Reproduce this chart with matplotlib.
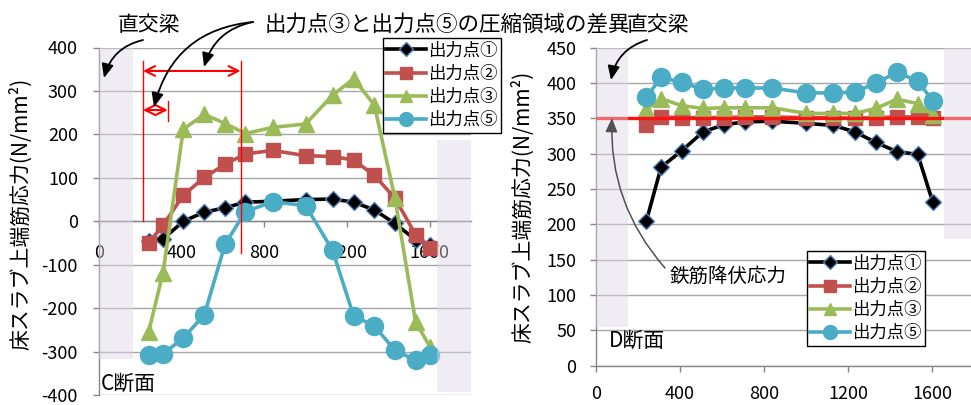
import matplotlib
matplotlib.use("Agg")
import matplotlib.pyplot as plt
from matplotlib.patches import Rectangle, FancyArrowPatch
from matplotlib.lines import Line2D

plt.rcParams['font.family'] = ['Noto Sans CJK JP', 'DejaVu Sans']
plt.rcParams['axes.unicode_minus'] = False

# ---- data -------------------------------------------------------------
positions = [240, 310, 408, 510, 610, 708, 840, 1000, 1130, 1232, 1332, 1432, 1532, 1603]
series_labels = ['出力点①', '出力点②', '出力点③', '出力点⑤']

# C断面 (compression side)
c_point1 = [-45, -41, 0, 21, 31, 44, 46, 50, 51, 44, 26, -5, -43, -55]
c_point2 = [-50, -9, 60, 101, 131, 155, 163, 151, 149, 141, 106, 53, -31, -62]
c_point3 = [-255, -118, 212, 246, 225, 202, 216, 224, 290, 328, 268, 53, -232, -290]
c_point5 = [-307, -305, -269, -215, -53, 22, 45, 36, -67, -218, -241, -297, -320, -307]

# D断面 (tension side)
d_point1 = [205, 281, 304, 331, 341, 345, 346, 343, 340, 331, 316, 303, 299, 232]
d_point2 = [341, 352, 351, 351, 351, 352, 352, 351, 351, 350, 351, 352, 352, 350]
d_point3 = [363, 378, 368, 364, 365, 365, 365, 357, 357, 357, 364, 377, 371, 355]
d_point5 = [380, 408, 401, 391, 393, 393, 393, 386, 386, 387, 400, 415, 403, 375]

yield_stress = 350
x_ticks = [0, 400, 800, 1200, 1600]
c_y_ticks = list(range(-400, 401, 100))
d_y_ticks = list(range(0, 451, 50))

# ---- figure -----------------------------------------------------------
W, H = 971, 405
fig = plt.figure(figsize=(W / 100, H / 100), dpi=100)


def fx(px):
    return px / W


def fy(py):
    return 1 - py / H


styles = [
    dict(color='black', marker='D', ms=8.5, mfc='black', mec='#4F81BD', mew=1.0),
    dict(color='#C0504D', marker='s', ms=9.5, mfc='#C0504D', mec='#C0504D'),
    dict(color='#9BBB59', marker='^', ms=12, mfc='#9BBB59', mec='#9BBB59'),
    dict(color='#4BACC6', marker='o', ms=13, mfc='#4BACC6', mec='#4BACC6'),
]
legend_ms = [7, 8, 9, 10]

GRID = '#A6A6A6'
BAND_FC = '#DCD8E6'
TICK_FS = 13


def style_axes(ax, yticks):
    ax.set_axisbelow(True)
    ax.grid(axis='y', color=GRID, lw=1.0)
    ax.set_yticks(yticks)
    ax.set_yticklabels([str(v) for v in yticks])
    ax.set_xticks(x_ticks)
    ax.set_xticklabels([str(v) for v in x_ticks])
    for s in ('top', 'right'):
        ax.spines[s].set_visible(False)
    for s in ('left', 'bottom'):
        ax.spines[s].set_color('#868686')
        ax.spines[s].set_linewidth(1.0)
    ax.tick_params(axis='both', colors='#868686', labelcolor='black',
                   labelsize=TICK_FS, length=4.2, width=1.0)


def draw_series(ax, ys_list):
    for ys, st in zip(ys_list, styles):
        ax.plot(positions, ys, lw=2.6, zorder=3, **st)


def band(ax, x0, x1, y0, y1):
    ax.add_patch(Rectangle((x0, y0), x1 - x0, y1 - y0, facecolor=BAND_FC,
                           edgecolor='none', alpha=0.45, zorder=6, clip_on=False))


def make_legend(ax, left_px, top_px):
    handles = [Line2D([], [], lw=2.6, **{**st, 'ms': m}) for st, m in zip(styles, legend_ms)]
    leg = ax.legend(handles, series_labels, loc='upper left',
                    bbox_to_anchor=(fx(left_px), fy(top_px)), bbox_transform=fig.transFigure,
                    frameon=True, fancybox=False, edgecolor='black', framealpha=1,
                    borderpad=0.2, borderaxespad=0, handlelength=2.3, handletextpad=0.1,
                    labelspacing=0.3, prop={'size': 12.5})
    leg.get_frame().set_linewidth(1.0)
    leg.set_zorder(10)


# ---- left: C断面 ------------------------------------------------------
axc = fig.add_axes([fx(99), fy(395), fx(471) - fx(99), fy(47.5) - fy(395)])
axc.set_xlim(0, 1800)
axc.set_ylim(-400, 400)
style_axes(axc, c_y_ticks)
axc.spines['bottom'].set_position(('data', 0))
axc.tick_params(axis='x', pad=12)
axc.tick_params(axis='y', pad=11)
draw_series(axc, [c_point1, c_point2, c_point3, c_point5])
band(axc, 0, 165, -316, 400)
band(axc, 1634, 1800, -392, 188)
make_legend(axc, 383, 38)

axc.set_ylabel('床スラブ上端筋応力(N/mm²)', fontsize=15)
axc.yaxis.set_label_coords(fx(21), fy(214), transform=fig.transFigure)
axc.yaxis.label.set_verticalalignment('center')
axc.text(0.005, 0.0, 'C断面', transform=axc.transAxes, fontsize=15,
         ha='left', va='bottom', zorder=7)

# compression-zone markers
red = '#FF0000'
zone_x0, zone_x1, zone_x_small = 213, 685, 333
axc.plot([zone_x0, zone_x0], [0, 368], color=red, lw=1.0, zorder=5, clip_on=False)
axc.plot([zone_x1, zone_x1], [-73, 368], color=red, lw=1.0, zorder=5, clip_on=False)
axc.plot([zone_x_small, zone_x_small], [230, 277], color=red, lw=1.0, zorder=5)
for (xa, xb, yv) in [(zone_x0, zone_x1, 346), (zone_x0, zone_x_small, 256)]:
    axc.annotate('', xy=(xb, yv), xytext=(xa, yv),
                 arrowprops=dict(arrowstyle='<->,head_length=0.5,head_width=0.25',
                                 color=red, lw=1.5, shrinkA=0, shrinkB=0,
                                 mutation_scale=14), zorder=5)

# ---- right: D断面 -----------------------------------------------------
axd = fig.add_axes([fx(596), fy(365.7), fx(974) - fx(596), fy(47.7) - fy(365.7)])
axd.set_xlim(0, 1800)
axd.set_ylim(0, 450)
style_axes(axd, d_y_ticks)
axd.tick_params(axis='x', pad=10)
axd.tick_params(axis='y', pad=10)
draw_series(axd, [d_point1, d_point2, d_point3, d_point5])
axd.axhline(yield_stress, color='#FF1010', lw=2.4, zorder=4)
band(axd, 0, 151, 55, 450)
band(axd, 1657, 1800, 180, 450)
make_legend(axd, 807, 251)

axd.set_ylabel('床スラブ上端筋応力(N/mm²)', fontsize=15)
axd.yaxis.set_label_coords(fx(523), fy(207), transform=fig.transFigure)
axd.yaxis.label.set_verticalalignment('center')
axd.text(0.035, 0.045, 'D断面', transform=axd.transAxes, fontsize=15,
         ha='left', va='bottom', zorder=7)

# ---- annotations -------------------------------------------------------
fig.text(fx(149), fy(25), '直交梁', fontsize=15, ha='center', va='center')
fig.text(fx(265), fy(25), '出力点③と出力点⑤の圧縮領域の差異', fontsize=15.5,
         ha='left', va='center')
fig.text(fx(627), fy(25), '直交梁', fontsize=15, ha='left', va='center')
fig.text(fx(728), fy(276), '鉄筋降伏応力', fontsize=14, ha='center', va='center')


def curved_arrow(p0, p1, rad, color='black', lw=1.3):
    a = FancyArrowPatch((fx(p0[0]), fy(p0[1])), (fx(p1[0]), fy(p1[1])),
                        transform=fig.transFigure,
                        connectionstyle=f'arc3,rad={rad}',
                        arrowstyle='-|>,head_length=0.7,head_width=0.3',
                        mutation_scale=12, color=color, lw=lw,
                        shrinkA=0, shrinkB=0, zorder=8)
    fig.add_artist(a)


curved_arrow((143, 40), (104, 78), 0.3)
curved_arrow((253, 22), (204, 67), 0.3)
curved_arrow((253, 22), (154, 107), 0.35)
curved_arrow((647, 40), (611, 80), 0.3)
curved_arrow((665, 268), (612, 118), -0.2, color='#505050', lw=1.1)

fig.savefig('out.png', dpi=100)
